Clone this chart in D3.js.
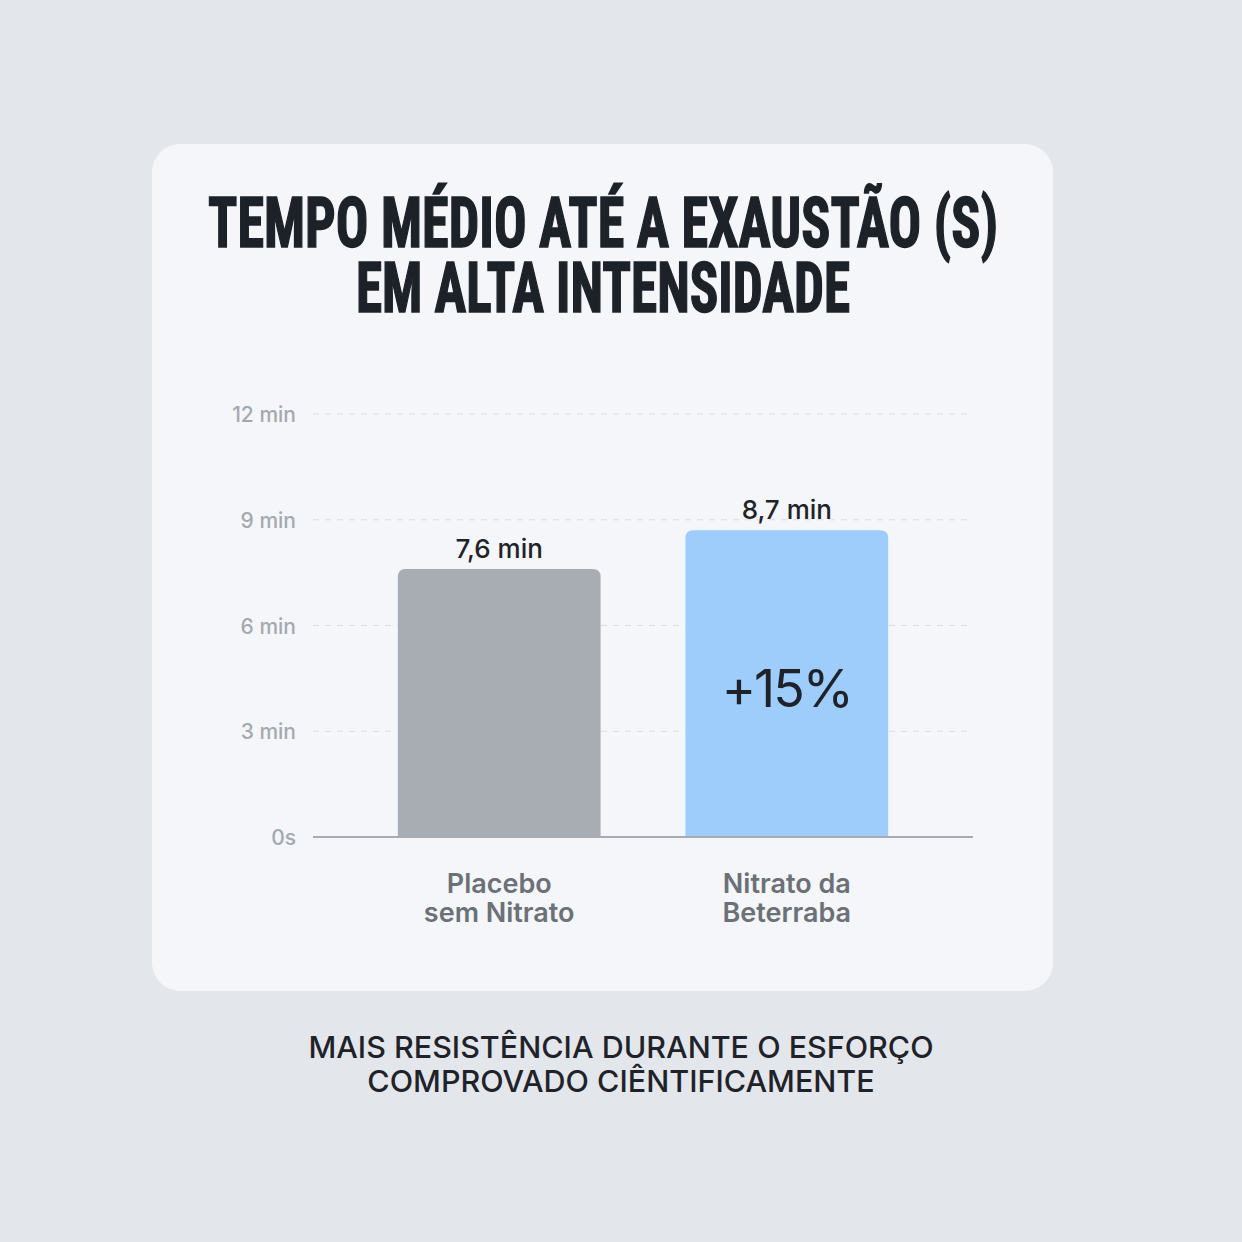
<!DOCTYPE html>
<html>
<head>
<meta charset="utf-8">
<script src="https://cdn.jsdelivr.net/npm/d3@7"></script>
<style>
  html, body { margin: 0; padding: 0; background: #e3e7ec; }
  svg { display: block; }
</style>
</head>
<body>
<div id="chart"></div>
<script>
var categories = [["Placebo", "sem Nitrato"], ["Nitrato da", "Beterraba"]];
var values = [7.6, 8.7];
var valueLabels = ["7,6 min", "8,7 min"];
var gainLabel = "+15%";
var barColors = ["#a8adb4", "#9ecdfb"];
var tickValues = [0, 3, 6, 9, 12];
var tickLabels = ["0s", "3 min", "6 min", "9 min", "12 min"];
var titleLines = ["TEMPO MÉDIO ATÉ A EXAUSTÃO (S)", "EM ALTA INTENSIDADE"];
var footerLines = ["MAIS RESISTÊNCIA DURANTE O ESFORÇO", "COMPROVADO CIÊNTIFICAMENTE"];

var width = 1242, height = 1242;
var plot = { left: 313, right: 973, top: 414, bottom: 837 };

var svg = d3.select("#chart").append("svg")
  .attr("width", width)
  .attr("height", height);

svg.append("rect")
  .attr("width", width).attr("height", height)
  .attr("fill", "#e3e7ec");

// card
svg.append("rect")
  .attr("x", 152).attr("y", 144)
  .attr("width", 901).attr("height", 847)
  .attr("rx", 28)
  .attr("fill", "#f4f6fa");

// title, squeezed to look like a condensed display face
var titleWidths = [790, 494];
var titleY = [247, 312];
svg.selectAll(".title")
  .data(titleLines)
  .enter().append("text")
  .attr("class", "title")
  .attr("x", (d, i) => width / 2 - titleWidths[i] / 2 - 18)
  .attr("y", (d, i) => titleY[i])
  .attr("textLength", (d, i) => titleWidths[i])
  .attr("lengthAdjust", "spacingAndGlyphs")
  .style("font-family", "'Liberation Sans Narrow', 'Roboto Condensed', Roboto, sans-serif")
  .style("font-weight", "bold")
  .style("font-size", "70px")
  .style("fill", "#1d2128")
  .style("stroke", "#1d2128")
  .style("stroke-width", "1.5px")
  .text(d => d);

var x = d3.scaleBand()
  .domain(d3.range(values.length))
  .range([plot.left, plot.right])
  .padding(0.295);

var y = d3.scaleLinear()
  .domain([0, 12])
  .range([plot.bottom, plot.top]);

// grid
svg.selectAll(".grid")
  .data(tickValues.filter(d => d > 0))
  .enter().append("line")
  .attr("class", "grid")
  .attr("x1", plot.left).attr("x2", plot.right)
  .attr("y1", d => y(d)).attr("y2", d => y(d))
  .attr("stroke", "#d9dce1")
  .attr("stroke-width", 1)
  .attr("stroke-dasharray", "6,6");

// y labels
svg.selectAll(".ytick")
  .data(tickValues)
  .enter().append("text")
  .attr("class", "ytick")
  .attr("x", 296)
  .attr("y", d => y(d) + 8)
  .attr("text-anchor", "end")
  .style("font-family", "Inter, 'Noto Sans', sans-serif")
  .style("font-size", "21px")
  .style("font-weight", 500)
  .style("fill", "#a4a9b0")
  .text((d, i) => tickLabels[i]);

// bars with rounded top corners
function barPath(x0, y0, w, h, r) {
  return "M" + x0 + "," + (y0 + h) +
    "V" + (y0 + r) +
    "Q" + x0 + "," + y0 + " " + (x0 + r) + "," + y0 +
    "H" + (x0 + w - r) +
    "Q" + (x0 + w) + "," + y0 + " " + (x0 + w) + "," + (y0 + r) +
    "V" + (y0 + h) + "Z";
}

svg.selectAll(".bar")
  .data(values)
  .enter().append("path")
  .attr("class", "bar")
  .attr("d", (d, i) => barPath(x(i), y(d), x.bandwidth(), y(0) - y(d), 8))
  .attr("fill", (d, i) => barColors[i]);

// baseline
svg.append("line")
  .attr("x1", plot.left).attr("x2", plot.right)
  .attr("y1", y(0)).attr("y2", y(0))
  .attr("stroke", "#a8acb2")
  .attr("stroke-width", 2);

// value labels
svg.selectAll(".vlabel")
  .data(values)
  .enter().append("text")
  .attr("class", "vlabel")
  .attr("x", (d, i) => x(i) + x.bandwidth() / 2)
  .attr("y", d => y(d) - 11)
  .attr("text-anchor", "middle")
  .style("font-family", "Inter, 'Noto Sans', sans-serif")
  .style("font-size", "26px")
  .style("font-weight", 500)
  .style("fill", "#1f2329")
  .text((d, i) => valueLabels[i]);

// percent gain
svg.append("text")
  .attr("x", x(1) + x.bandwidth() / 2)
  .attr("y", 707)
  .attr("text-anchor", "middle")
  .style("font-family", "Inter, 'Noto Sans', sans-serif")
  .style("font-size", "52px")
  .style("letter-spacing", "-2px")
  .style("fill", "#1f2329")
  .text(gainLabel);

// category labels
var cat = svg.selectAll(".cat")
  .data(categories)
  .enter().append("text")
  .attr("class", "cat")
  .attr("text-anchor", "middle")
  .style("font-family", "Inter, 'Noto Sans', sans-serif")
  .style("font-size", "27px")
  .style("font-weight", 600)
  .style("fill", "#6c7077");

cat.selectAll("tspan")
  .data((d, i) => d.map(t => ({ t: t, i: i })))
  .enter().append("tspan")
  .attr("x", d => x(d.i) + x.bandwidth() / 2)
  .attr("y", (d, j) => 893 + j * 29)
  .text(d => d.t);

// footer
svg.selectAll(".footer")
  .data(footerLines)
  .enter().append("text")
  .attr("class", "footer")
  .attr("x", width / 2)
  .attr("y", (d, i) => 1058 + i * 34)
  .attr("text-anchor", "middle")
  .style("font-family", "Inter, 'Noto Sans', sans-serif")
  .style("font-size", "30.5px")
  .style("font-weight", 500)
  .style("fill", "#1f2329")
  .text(d => d);
</script>
</body>
</html>
